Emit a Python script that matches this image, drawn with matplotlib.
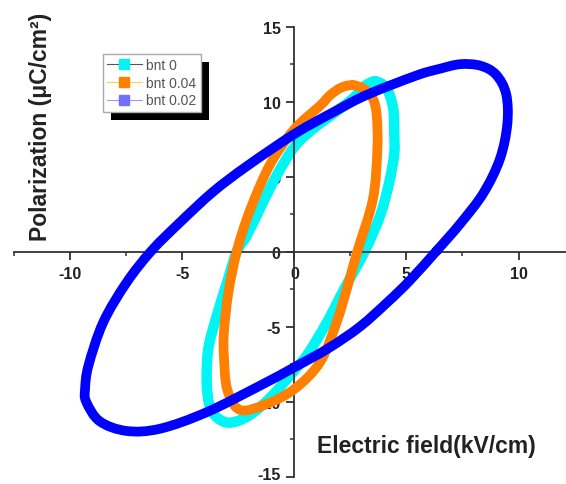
import matplotlib
matplotlib.use('Agg')
import matplotlib.pyplot as plt
import matplotlib.transforms as mtransforms
from matplotlib.lines import Line2D
from matplotlib.patches import Rectangle, PathPatch
from matplotlib.path import Path

plt.rcParams['axes.unicode_minus'] = False

### 0. Data
# bnt 0 (cyan loop)
e_0 = [3.6, 4.1, 4.4, 4.45, 4.45, 4.23, 3.82, 3.15, 2.25, 1.45, 0.6, 0.0, -1.0, -2.0, -2.9,
       -3.5, -3.8, -3.92, -3.85, -3.47, -3.0, -2.58, -2.13, -1.5, -0.8, 0.0, 0.8,
       1.73, 2.6, 3.1, 3.6]
p_0 = [11.35, 10.9, 9.6, 8.0, 6.5, 4.63, 2.4, 0.07, -2.4, -4.7, -6.8, -7.9, -9.6, -10.9, -11.4,
       -11.0, -10.2, -8.71, -6.49, -4.27, -2.0, 0.0, 1.07, 3.0, 5.07, 7.0, 8.15,
       9.2, 10.2, 11.0, 11.35]

# bnt 0.04 (orange loop)
e_04 = [2.6, 3.1, 3.5, 3.67, 3.7, 3.5, 2.8, 2.35, 1.88, 1.14, 0.0, -1.24, -2.43,
        -3.0, -3.15, -3.15, -2.95, -2.58, -2.13, -1.54, -0.95, 0.0, 1.14, 1.6, 2.1, 2.6]
p_04 = [11.1, 10.85, 10.2, 9.07, 6.85, 3.5, 0.0, -2.4, -4.71, -7.37, -9.15, -10.15, -10.55,
        -9.2, -7.0, -5.37, -2.71, 0.0, 2.18, 4.4, 6.18, 8.18, 9.73, 10.45, 10.95, 11.1]

# bnt 0.02 (blue loop)
e_02 = [6.35, 7.39, 8.43, 9.17, 9.5, 9.45, 9.0, 8.3, 7.4, 6.5, 5.45, 3.22, 1.73, 0.0,
        -2.13, -3.63, -5.11, -6.38, -7.49, -8.54, -9.2, -9.35, -9.3, -8.7, -7.5, -6.0,
        -3.92, -1.54, 0.0, 1.5, 2.92, 4.2, 5.16, 6.35]
p_02 = [0.07, 1.85, 3.9, 6.18, 8.5, 10.5, 11.8, 12.4, 12.5, 12.2, 11.75, 10.45, 9.3, 7.85,
        5.7, 4.0, 1.96, 0.07, -2.04, -4.71, -7.6, -9.15, -10.0, -11.3, -11.95, -11.8,
        -10.7, -8.93, -7.7, -6.45, -5.0, -3.3, -1.9, 0.07]

labels = ['bnt 0', 'bnt 0.04', 'bnt 0.02']
xticks = [-10, -5, 0, 5, 10]
yticks = [-15, -10, -5, 0, 5, 10, 15]


### -1. Functions
def loop_path(e, p):
    # closed smooth curve (Catmull-Rom drawn as bezier) through the read points
    pts = list(zip(e[:-1], p[:-1]))
    n = len(pts)
    verts = [pts[0]]
    codes = [Path.MOVETO]
    for i in range(n):
        p0, p1, p2, p3 = pts[i - 1], pts[i], pts[(i + 1) % n], pts[(i + 2) % n]
        c1 = (p1[0] + (p2[0] - p0[0]) / 6, p1[1] + (p2[1] - p0[1]) / 6)
        c2 = (p2[0] - (p3[0] - p1[0]) / 6, p2[1] - (p3[1] - p1[1]) / 6)
        verts += [c1, c2, p2]
        codes += [Path.CURVE4] * 3
    return Path(verts, codes)


### 1. Figure
W, H = 566, 485
fig = plt.figure(figsize=(W / 100, H / 100), dpi=100)
ax = fig.add_axes([14.5 / W, 1 - 477.7 / H, (W - 14.5) / W, (477.7 - 27.7) / H])
ax.patch.set_visible(False)

for e, p, c, lw, z in [(e_0, p_0, '#00f5f5', 7.5, 2),
                       (e_04, p_04, '#ff7f00', 7, 3),
                       (e_02, p_02, '#0000ff', 7, 4)]:
    ax.add_patch(PathPatch(loop_path(e, p), fill=False, edgecolor=c, lw=lw, zorder=z,
                           joinstyle='round', capstyle='round'))

ax.set_xlim(-12.5, (W - 294.5) / 22.4)
ax.set_ylim(-15, 15)

for s in ['top', 'right']:
    ax.spines[s].set_visible(False)
for s in ['left', 'bottom']:
    ax.spines[s].set_position(('data', 0))
    ax.spines[s].set_linewidth(1.3)
    ax.spines[s].set_color('#333333')

ax.set_xticks(xticks)
ax.set_yticks(yticks)
ax.set_xticks([-12.5, -7.5, -2.5, 2.5, 7.5], minor=True)
ax.set_yticks([-12.5, -7.5, -2.5, 2.5, 7.5, 12.5], minor=True)
ax.tick_params(which='major', direction='out', length=6, width=1.3, color='#333333',
               labelsize=11.5, labelcolor='#222222', pad=4)
ax.tick_params(which='minor', direction='out', length=3, width=1.1, color='#333333')
for t in ax.get_xticklabels() + ax.get_yticklabels():
    t.set_fontweight('bold')
    t.set_family('Liberation Sans')
# keep the bottom "-15" inside the picture
lab15 = ax.get_yticklabels()[0]
lab15.set_transform(lab15.get_transform() +
                    mtransforms.ScaledTranslation(0, 3 / 72, fig.dpi_scale_trans))

fig.text(41 / W, 1 - 127 / H, 'Polarization (μC/cm²)', rotation=90, ha='center', va='center',
         fontsize=16.5, fontweight='bold', family='Liberation Sans', color='#222222')
fig.text(316.7 / W, 1 - 446.7 / H, 'Electric field(kV/cm)', ha='left', va='center',
         fontsize=16.5, fontweight='bold', family='Liberation Sans', color='#222222')

### 2. Legend
handles = [
    Line2D([], [], color='#555555', lw=0.8, marker='s', ms=7.5, mfc='#00f5f5', mec='#00f5f5'),
    Line2D([], [], color='#ffd24d', lw=0.8, marker='s', ms=7.5, mfc='#ff7f00', mec='#ff7f00'),
    Line2D([], [], color='#9a9aff', lw=0.8, marker='s', ms=7.5, mfc='#7070ff', mec='#7070ff'),
]
leg = ax.legend(handles, labels, loc='upper left', bbox_to_anchor=(102.7 / W, 1 - 55 / H),
                bbox_transform=fig.transFigure, borderaxespad=0, fancybox=False,
                framealpha=1, edgecolor='#aaaaaa', prop={'family': 'Liberation Sans', 'size': 10},
                handlelength=2.5, handletextpad=0.35, labelspacing=0.26, borderpad=0.3)
leg.get_frame().set_linewidth(1.0)
for t in leg.get_texts():
    t.set_color('#555555')
leg.set_zorder(6)

fig.canvas.draw()
bb = leg.get_window_extent(fig.canvas.get_renderer())
ax.add_patch(Rectangle(((bb.x0 + 8) / W, (bb.y0 - 8) / H), bb.width / W, bb.height / H,
                       transform=fig.transFigure, facecolor='black', edgecolor='none',
                       zorder=5, clip_on=False))

fig.savefig('out.png', dpi=100)
